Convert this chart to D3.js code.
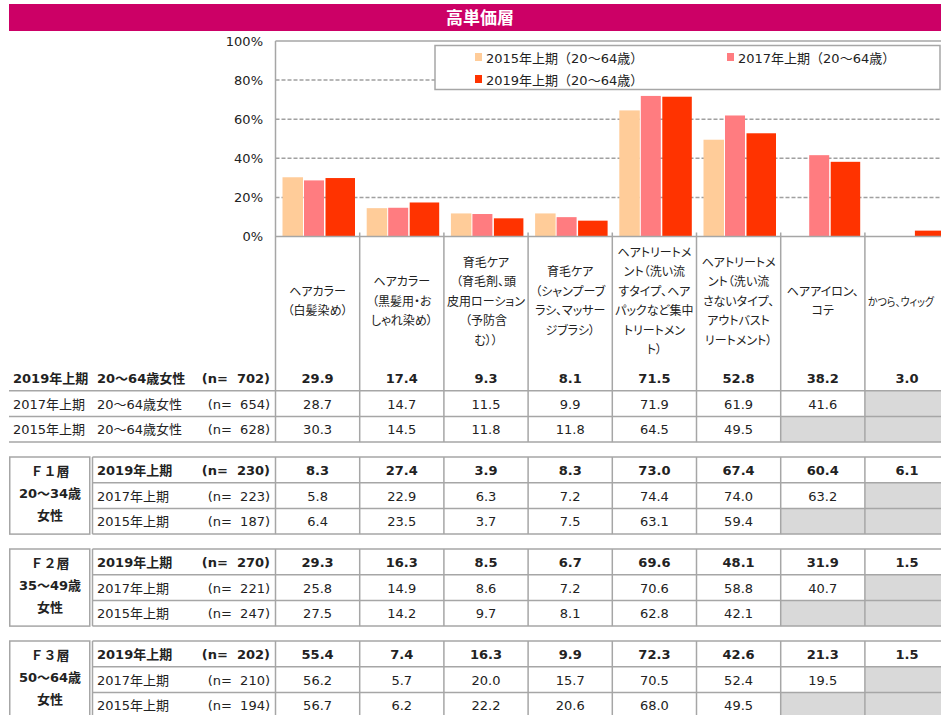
<!DOCTYPE html>
<html>
<head>
<meta charset="utf-8">
<script src="https://cdn.jsdelivr.net/npm/d3@7"></script>
<style>
  body { margin: 0; background: #fff; }
  text { font-family: "DejaVu Sans", "Noto Sans CJK JP", sans-serif; }
  .jp { font-family: "Noto Sans CJK JP", sans-serif; font-feature-settings: "palt"; }
</style>
</head>
<body>
<div id="container"></div>
<script>
// Data
var title = "高単価層";
var categories = [
  ["ヘアカラー", "（白髪染め）"],
  ["ヘアカラー", "（黒髪用・お", "しゃれ染め）"],
  ["育毛ケア", "（育毛剤、頭", "皮用ローション", "（予防含", "む））"],
  ["育毛ケア", "（シャンプーブ", "ラシ、マッサー", "ジブラシ）"],
  ["ヘアトリートメ", "ント（洗い流", "すタイプ、ヘア", "パックなど集中", "トリートメン", "ト）"],
  ["ヘアトリートメ", "ント（洗い流", "さないタイプ、", "アウトバスト", "リートメント）"],
  ["ヘアアイロン、", "コテ"],
  ["かつら、ウィッグ"]
];
var seriesNames = ["2015年上期（20～64歳）", "2017年上期（20～64歳）", "2019年上期（20～64歳）"];
var seriesColors = ["#FFCC99", "#FF7C80", "#FF3300"];
var yTicks = [0, 20, 40, 60, 80, 100];

// total (20-64)
var total2019 = [29.9, 17.4, 9.3, 8.1, 71.5, 52.8, 38.2, 3.0];
var total2017 = [28.7, 14.7, 11.5, 9.9, 71.9, 61.9, 41.6, null];
var total2015 = [30.3, 14.5, 11.8, 11.8, 64.5, 49.5, null, null];
// F1
var f1_2019 = [8.3, 27.4, 3.9, 8.3, 73.0, 67.4, 60.4, 6.1];
var f1_2017 = [5.8, 22.9, 6.3, 7.2, 74.4, 74.0, 63.2, null];
var f1_2015 = [6.4, 23.5, 3.7, 7.5, 63.1, 59.4, null, null];
// F2
var f2_2019 = [29.3, 16.3, 8.5, 6.7, 69.6, 48.1, 31.9, 1.5];
var f2_2017 = [25.8, 14.9, 8.6, 7.2, 70.6, 58.8, 40.7, null];
var f2_2015 = [27.5, 14.2, 9.7, 8.1, 62.8, 42.1, null, null];
// F3
var f3_2019 = [55.4, 7.4, 16.3, 9.9, 72.3, 42.6, 21.3, 1.5];
var f3_2017 = [56.2, 5.7, 20.0, 15.7, 70.5, 52.4, 19.5, null];
var f3_2015 = [56.7, 6.2, 22.2, 20.6, 68.0, 49.5, null, null];

var groupLabels = [null, ["Ｆ１層", "20～34歳", "女性"], ["Ｆ２層", "35～49歳", "女性"], ["Ｆ３層", "50～64歳", "女性"]];
var periods = ["2019年上期", "2017年上期", "2015年上期"];
var nTotal = [702, 654, 628];
var nF1 = [230, 223, 187];
var nF2 = [270, 221, 247];
var nF3 = [202, 210, 194];

var groups = [
  { label: groupLabels[0], n: nTotal, rows: [total2019, total2017, total2015] },
  { label: groupLabels[1], n: nF1, rows: [f1_2019, f1_2017, f1_2015] },
  { label: groupLabels[2], n: nF2, rows: [f2_2019, f2_2017, f2_2015] },
  { label: groupLabels[3], n: nF3, rows: [f3_2019, f3_2017, f3_2015] }
];

// Layout
var W = 941, H = 715;
var lineCol = "#A6A6A6";
var svg = d3.select("#container").append("svg").attr("width", W).attr("height", H);

// header bar
svg.append("rect").attr("x", 9).attr("y", 4).attr("width", W - 9).attr("height", 27).attr("fill", "#CC0066");
svg.append("text").attr("x", 480).attr("y", 24).attr("text-anchor", "middle")
  .attr("class", "jp").attr("font-size", 17).attr("font-weight", "bold").attr("fill", "#fff").text(title);

var x = d3.scaleBand().domain(d3.range(categories.length)).range([275.5, 275.5 + 84.2 * 8]).padding(0);
var y = d3.scaleLinear().domain([0, 100]).range([236.5, 41]);

// gridlines
svg.selectAll("line.grid").data(yTicks.filter(function(d) { return d > 0 && d < 100; }))
  .enter().append("line")
  .attr("x1", 275.5).attr("x2", W).attr("y1", function(d) { return y(d); }).attr("y2", function(d) { return y(d); })
  .attr("stroke", "#A0A0A0").attr("stroke-width", 1.5).attr("stroke-dasharray", "4,2");
svg.append("line").attr("x1", 275.5).attr("x2", W).attr("y1", y(100)).attr("y2", y(100))
  .attr("stroke", lineCol).attr("stroke-width", 1.5);

// y axis labels
svg.selectAll("text.ytick").data(yTicks).enter().append("text")
  .attr("x", 263).attr("y", function(d) { return y(d) + 4.5; })
  .attr("text-anchor", "end").attr("font-size", 13).attr("fill", "#222")
  .text(function(d) { return d + "%"; });

// legend
var lg = svg.append("g");
lg.append("rect").attr("x", 435).attr("y", 45.5).attr("width", 505).attr("height", 44)
  .attr("fill", "#fff").attr("stroke", lineCol).attr("stroke-width", 1.5);
var legPos = [[475, 58], [727, 58], [475, 80]];
seriesNames.forEach(function(s, i) {
  lg.append("rect").attr("x", legPos[i][0]).attr("y", legPos[i][1] - 5).attr("width", 7).attr("height", 8).attr("fill", seriesColors[i]);
  lg.append("text").attr("x", legPos[i][0] + 11).attr("y", legPos[i][1] + 4.5).attr("font-size", 13).attr("fill", "#222").text(s);
});

// bars
var barOff = [[7, 27.5], [28.5, 48.5], [50, 79.5]];
var barSeries = [total2015, total2017, total2019];
barSeries.forEach(function(vals, si) {
  var pts = vals.map(function(v, i) { return { i: i, v: v }; }).filter(function(d) { return d.v != null; });
  svg.selectAll("rect.bar" + si).data(pts).enter().append("rect")
    .attr("x", function(d) { return x(d.i) + barOff[si][0]; })
    .attr("y", function(d) { return y(d.v); })
    .attr("width", barOff[si][1] - barOff[si][0])
    .attr("height", function(d) { return y(0) - y(d.v); })
    .attr("fill", seriesColors[si]);
});

// axis lines
svg.append("line").attr("x1", 275.5).attr("x2", 275.5).attr("y1", y(100)).attr("y2", 365).attr("stroke", lineCol).attr("stroke-width", 1.5);
svg.append("line").attr("x1", 275.5).attr("x2", W).attr("y1", y(0)).attr("y2", y(0)).attr("stroke", lineCol).attr("stroke-width", 1.5);
svg.selectAll("line.colsep").data(d3.range(1, categories.length)).enter().append("line")
  .attr("x1", function(d) { return x(d); }).attr("x2", function(d) { return x(d); })
  .attr("y1", y(0) - 4).attr("y2", 365).attr("stroke", lineCol).attr("stroke-width", 1.5);

// category labels
categories.forEach(function(lines, i) {
  var cy = 301, lh = 19.5;
  var y0 = cy - (lines.length - 1) * lh / 2;
  var last = i === categories.length - 1;
  var t = svg.append("text").attr("class", "jp").attr("font-size", last ? 11 : 12).attr("fill", "#222")
    .attr("text-anchor", last ? "start" : "middle");
  lines.forEach(function(l, k) {
    var ts = t.append("tspan").attr("x", last ? x(i) + 3 : x(i) + x.bandwidth() / 2).attr("y", y0 + k * lh + 4.5).text(l);
    if (last) ts.attr("textLength", W - x(i) - 10).attr("lengthAdjust", "spacingAndGlyphs");
  });
});

// table
var rowH = 25.7;
groups.forEach(function(g, gi) {
  var top = 365 + 92 * gi;
  var tg = svg.append("g");
  var leftX = g.label ? 92.5 : 9;

  // gray empty cells
  g.rows.forEach(function(vals, ri) {
    vals.forEach(function(v, ci) {
      if (v == null) {
        tg.append("rect").attr("x", x(ci)).attr("y", top + ri * rowH).attr("width", x.bandwidth()).attr("height", rowH).attr("fill", "#D9D9D9");
      }
    });
  });

  // horizontal lines
  d3.range(4).forEach(function(k) {
    if (gi === 0 && k === 0) return;
    tg.append("line").attr("x1", leftX).attr("x2", W).attr("y1", top + k * rowH).attr("y2", top + k * rowH)
      .attr("stroke", lineCol).attr("stroke-width", 1.5);
  });
  // vertical lines
  d3.range(categories.length).forEach(function(ci) {
    tg.append("line").attr("x1", x(ci)).attr("x2", x(ci)).attr("y1", top).attr("y2", Math.min(top + 3 * rowH, H))
      .attr("stroke", lineCol).attr("stroke-width", 1.5);
  });
  if (g.label) {
    tg.append("line").attr("x1", leftX).attr("x2", leftX).attr("y1", top).attr("y2", top + 3 * rowH).attr("stroke", lineCol).attr("stroke-width", 1.5);
    tg.append("rect").attr("x", 9.75).attr("y", top).attr("width", 80).attr("height", 3 * rowH)
      .attr("fill", "none").attr("stroke", lineCol).attr("stroke-width", 1.5);
    var gt = tg.append("text").attr("font-size", 13).attr("font-weight", "bold").attr("fill", "#222").attr("text-anchor", "middle");
    g.label.forEach(function(l, k) {
      gt.append("tspan").attr("x", 50).attr("y", top + 3 * rowH / 2 + (k - 1) * 22 + 2).text(l);
    });
  }

  g.rows.forEach(function(vals, ri) {
    var bold = ri === 0;
    var ty = top + ri * rowH + rowH / 2 + 5;
    var fw = bold ? "bold" : "normal";
    if (g.label) {
      tg.append("text").attr("x", 97).attr("y", ty).attr("font-size", 13).attr("font-weight", fw).attr("fill", "#222").text(periods[ri]);
    } else {
      tg.append("text").attr("x", 13).attr("y", ty).attr("font-size", 13).attr("font-weight", fw).attr("fill", "#222").text(periods[ri]);
      tg.append("text").attr("x", 97).attr("y", ty).attr("font-size", 13).attr("font-weight", fw).attr("fill", "#222").text("20～64歳女性");
    }
    tg.append("text").attr("x", 270).attr("y", ty).attr("text-anchor", "end").attr("font-size", 13).attr("font-weight", fw)
      .attr("fill", "#222").style("white-space", "pre").text("(n=  " + g.n[ri] + ")");
    vals.forEach(function(v, ci) {
      if (v == null) return;
      tg.append("text").attr("x", x(ci) + x.bandwidth() / 2).attr("y", ty).attr("text-anchor", "middle")
        .attr("font-size", 13).attr("font-weight", fw).attr("fill", "#222").text(v.toFixed(1));
    });
  });
});
</script>
</body>
</html>
